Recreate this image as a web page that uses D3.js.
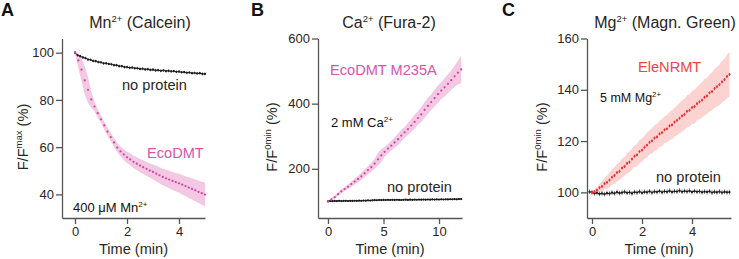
<!DOCTYPE html>
<html>
<head>
<meta charset="utf-8">
<script src="https://cdn.jsdelivr.net/npm/d3@7"></script>
<style>
  body { margin: 0; background: #fff; }
  svg text { font-family: "Liberation Sans", Arial, sans-serif; }
</style>
</head>
<body>
<svg id="fig" width="739" height="259"></svg>
<script>
// ---- data ----
// Panel A: Mn2+ (Calcein), EcoDMT, sampled every 0.125 min
var stepEcoA = 0.125;
var ecoDmtA = [100, 96.7, 92.8, 88.3, 84.3, 80.2, 77.2, 74.4, 71.8, 69.2,
    66.6, 64.3, 62.0, 59.8, 58.2, 56.9, 55.7, 54.8, 53.8, 53.0,
    52.2, 51.5, 50.8, 50.1, 49.5, 48.8, 48.1, 47.4, 46.8, 46.3,
    45.7, 45.2, 44.7, 44.1, 43.5, 42.9, 42.3, 41.7, 41.1, 40.5,
    39.9];
var ecoDmtSdA = [0.5, 3.0, 5.0, 6.0, 5.5, 3.5, 2.0, 1.8, 1.6, 1.6,
    1.7, 1.8, 1.9, 2.0, 2.1, 2.3, 2.4, 2.5, 2.6, 2.7,
    2.8, 2.9, 3.0, 3.0, 3.2, 3.3, 3.4, 3.5, 3.6, 3.7,
    3.8, 3.9, 4.0, 4.1, 4.2, 4.4, 4.5, 4.6, 4.8, 4.9,
    5.1];
var stepNoProtA = 0.1;
var noProteinA = [100.0, 98.9, 98.5, 98.0, 97.7, 97.1, 97.0, 96.5, 96.4, 96.0,
    95.9, 95.5, 95.5, 95.2, 95.1, 94.7, 94.7, 94.3, 94.3, 93.9,
    93.9, 93.6, 93.7, 93.4, 93.4, 93.1, 93.2, 92.9, 93.0, 92.7,
    92.8, 92.5, 92.6, 92.3, 92.5, 92.2, 92.3, 92.1, 92.2, 91.9,
    92.0, 91.7, 91.8, 91.5, 91.6, 91.3, 91.4, 91.2, 91.3, 91.0,
    91.0];

// Panel B: Ca2+ (Fura-2), EcoDMT M235A, sampled every 0.3 min
var stepEcoB = 0.3;
var ecoM235AB = [100, 106, 113, 122, 131, 138, 145, 153, 161, 169,
    177, 186, 196, 205, 216, 229, 241, 252, 262, 271,
    281, 291, 302, 312, 322, 333, 344, 356, 367, 381,
    393, 405, 417, 429, 440, 450, 461, 472, 484, 495,
    505];
var ecoM235ASdB = [2, 3, 4, 5, 6, 6, 7, 8, 9, 10,
    11, 12, 12, 13, 16, 19, 20, 15, 14, 15,
    16, 17, 18, 17, 19, 20, 22, 21, 23, 24,
    25, 24, 26, 27, 26, 28, 29, 30, 32, 36,
    42];
var stepNoProtB = 0.2;
var noProteinB = [100.0, 101.2, 100.8, 101.5, 101.0, 101.6, 101.1, 101.4, 101.8, 101.2,
    101.7, 101.3, 102.0, 101.6, 102.2, 101.8, 102.5, 102.1, 103.0, 102.6,
    103.4, 103.9, 103.5, 104.3, 104.0, 104.6, 104.2, 104.8, 104.3, 104.9,
    104.4, 105.0, 104.5, 104.2, 104.9, 105.1, 104.6, 105.3, 104.8, 105.4,
    105.0, 105.6, 105.1, 105.7, 105.2, 105.8, 105.4, 106.0, 105.5, 106.1,
    105.7, 106.3, 105.8, 106.4, 106.0, 106.6, 106.2, 106.8, 106.4, 107.0,
    107.2];

// Panel C: Mg2+ (Magn. Green), EleNRMT, sampled every 0.1 min
var stepEleC = 0.1;
var eleNRMTC = [100.0, 100.3, 100.9, 101.8, 102.3, 103.4, 103.9, 104.8, 105.9, 106.6,
    107.7, 108.2, 109.5, 110.1, 111.3, 111.8, 113.0, 114.1, 114.6, 115.9,
    116.5, 117.6, 118.4, 119.5, 120.1, 121.2, 121.6, 122.8, 123.3, 124.4,
    124.8, 125.9, 126.3, 127.4, 128.1, 128.9, 129.8, 130.4, 131.6, 132.0,
    133.1, 133.5, 134.6, 135.3, 136.0, 137.1, 137.6, 138.8, 139.3, 140.5,
    141.2, 142.0, 143.1, 144.0, 145.2, 146.0];
var eleNRMTSdC = [0.5, 0.8, 1.2, 1.6, 1.9, 2.2, 2.5, 2.8, 3.0, 3.2,
    3.4, 3.5, 3.7, 3.6, 3.9, 4.0, 4.2, 4.1, 4.4, 4.5,
    4.6, 4.5, 4.8, 4.7, 4.9, 5.0, 5.1, 5.0, 5.3, 5.2,
    5.4, 5.5, 5.7, 5.6, 5.8, 5.9, 6.1, 6.0, 6.3, 6.2,
    6.4, 6.6, 6.5, 6.8, 6.9, 7.1, 7.0, 7.3, 7.4, 7.6,
    7.7, 7.9, 8.1, 8.3, 8.5, 8.7];
var stepNoProtC = 0.1;
var startNoProtC = -0.1;
var noProteinC = [100.2, 100.0, 99.6, 99.8, 99.4, 99.6, 99.3, 99.7, 99.5, 99.9, 99.6,
    100.1, 99.7, 99.9, 100.2, 99.8, 100.0, 99.6, 100.1, 99.9, 100.3,
    99.8, 100.2, 100.0, 100.4, 99.9, 100.3, 100.1, 100.5, 100.0, 100.4,
    100.2, 100.6, 100.1, 100.4, 100.3, 100.7, 100.2, 100.5, 100.3, 100.6,
    100.1, 100.5, 100.2, 100.4, 100.0, 100.3, 100.1, 100.4, 99.9, 100.2,
    100.0, 100.3, 99.9, 100.2, 100.0, 100.1];

// tick values
var xTicksA = [0, 2, 4], yTicksA = [40, 60, 80, 100];
var xTicksB = [0, 5, 10], yTicksB = [200, 400, 600];
var xTicksC = [0, 2, 4], yTicksC = [100, 120, 140, 160];

function toPoints(vals, step, start, sd) {
    return vals.map(function (v, i) {
        return { t: (start || 0) + i * step, v: v, sd: sd ? sd[i] : 0 };
    });
}

var svg = d3.select('#fig');
var PINK = '#d6409f', PINK_BAND = '#f3c8e3';
var RED = '#ec2d32', RED_BAND = '#fdd3d1';
var FONT = '"Liberation Sans", Arial, sans-serif';
var INK = '#262626';

function drawPanel(cfg) {
    var g = svg.append('g');
    var x = d3.scaleLinear().domain(cfg.xDomain).range(cfg.xRange);
    var y = d3.scaleLinear().domain(cfg.yDomain).range([218, 38.5]);

    // band around the protein trace
    var pts = cfg.protein;
    g.append('path').datum(pts)
        .attr('fill', cfg.band)
        .attr('d', d3.area()
            .x(function (d) { return x(d.t); })
            .y0(function (d) { return y(d.v - d.sd); })
            .y1(function (d) { return y(d.v + d.sd); }));

    // no protein control: error bars + markers
    var ctrl = cfg.control;
    g.selectAll('.ebar').data(ctrl).enter().append('line')
        .attr('x1', function (d) { return x(d.t); })
        .attr('x2', function (d) { return x(d.t); })
        .attr('y1', function (d) { return y(d.v - cfg.ctrlErr); })
        .attr('y2', function (d) { return y(d.v + cfg.ctrlErr); })
        .attr('stroke', '#7a7a7a').attr('stroke-width', 1);
    g.append('path').datum(ctrl)
        .attr('fill', 'none').attr('stroke', '#2a2a2a').attr('stroke-width', 1)
        .attr('d', d3.line().x(function (d) { return x(d.t); }).y(function (d) { return y(d.v); }));
    g.selectAll('.cdot').data(ctrl).enter().append('circle')
        .attr('cx', function (d) { return x(d.t); })
        .attr('cy', function (d) { return y(d.v); })
        .attr('r', 1.1).attr('fill', '#1a1a1a');

    // protein dots
    if (cfg.proteinBars) {
        g.selectAll('.pbar').data(pts).enter().append('line')
            .attr('x1', function (d) { return x(d.t); })
            .attr('x2', function (d) { return x(d.t); })
            .attr('y1', function (d) { return y(d.v) - 1.5; })
            .attr('y2', function (d) { return y(d.v) + 1.5; })
            .attr('stroke', cfg.dot).attr('stroke-width', 0.8);
    }
    g.selectAll('.pdot').data(pts).enter().append('circle')
        .attr('cx', function (d) { return x(d.t); })
        .attr('cy', function (d) { return y(d.v); })
        .attr('r', 1.1).attr('fill', cfg.dot);

    // axes
    var xa = g.append('g').attr('transform', 'translate(0,218)')
        .call(d3.axisBottom(x).tickValues(cfg.xTicks).tickFormat(d3.format('d'))
            .tickSize(6).tickSizeOuter(0).tickPadding(3));
    var ya = g.append('g').attr('transform', 'translate(' + cfg.xRange[0] + ',0)')
        .call(d3.axisLeft(y).tickValues(cfg.yTicks).tickFormat(d3.format('d'))
            .tickSize(6).tickSizeOuter(0).tickPadding(2));
    [xa, ya].forEach(function (a) {
        a.select('.domain').attr('stroke', '#555').attr('stroke-width', 1.3);
        a.selectAll('.tick line').attr('stroke', '#555').attr('stroke-width', 1.3);
        a.selectAll('.tick text').attr('fill', INK)
            .style('font-size', '13px').style('font-family', FONT);
    });

    // panel letter
    g.append('text').attr('x', cfg.letterX).attr('y', 16)
        .style('font-size', '18px').style('font-weight', 'bold').attr('fill', '#111')
        .text(cfg.letter);

    // title with superscript
    var title = g.append('text').attr('x', cfg.titleX).attr('y', 28)
        .attr('text-anchor', 'middle').style('font-size', '16px').attr('fill', INK);
    title.append('tspan').text(cfg.ion);
    title.append('tspan').attr('dy', -6).style('font-size', '9.5px').text('2+');
    title.append('tspan').attr('dy', 6).text(' (' + cfg.dye + ')');

    // y label
    var cx = (cfg.xRange[0] + cfg.xRange[1]) / 2;
    var yl = g.append('text')
        .attr('transform', 'translate(' + cfg.yLabelX + ',137) rotate(-90)')
        .attr('text-anchor', 'middle').style('font-size', '14.6px').attr('fill', INK);
    yl.append('tspan').text('F/F');
    yl.append('tspan').attr('dy', -6).style('font-size', '9.5px').text(cfg.ySup);
    yl.append('tspan').attr('dy', 6).text(' (%)');

    // x label
    g.append('text').attr('x', cx).attr('y', 254).attr('text-anchor', 'middle')
        .style('font-size', '14.6px').attr('fill', INK).text('Time (min)');

    // annotations
    cfg.notes.forEach(function (n) {
        var t = g.append('text').attr('x', n.x).attr('y', n.y)
            .style('font-size', n.size + 'px').attr('fill', n.color);
        t.append('tspan').text(n.text);
        if (n.sup) {
            t.append('tspan').attr('dy', -5).style('font-size', (n.size * 0.62) + 'px').text(n.sup);
        }
    });
}

drawPanel({
    letter: 'A', letterX: 1, ion: 'Mn', dye: 'Calcein', titleX: 140,
    ySup: 'max', yLabelX: 28,
    xDomain: [-0.5, 5], xRange: [62, 205], yDomain: [30, 106],
    xTicks: xTicksA, yTicks: yTicksA,
    protein: toPoints(ecoDmtA, stepEcoA, 0, ecoDmtSdA),
    control: toPoints(noProteinA, stepNoProtA, 0), ctrlErr: 0.6,
    band: PINK_BAND, dot: PINK,
    notes: [
        { x: 122, y: 90, size: 14.6, color: INK, text: 'no protein' },
        { x: 147, y: 158, size: 14.6, color: '#d655ab', text: 'EcoDMT' },
        { x: 73, y: 212, size: 13, color: '#111', text: '400 \u03bcM Mn', sup: '2+' }
    ]
});

drawPanel({
    letter: 'B', letterX: 251, ion: 'Ca', dye: 'Fura-2', titleX: 389,
    ySup: '0min', yLabelX: 277,
    xDomain: [-0.9, 12.07], xRange: [318, 462], yDomain: [49, 600],
    xTicks: xTicksB, yTicks: yTicksB,
    protein: toPoints(ecoM235AB, stepEcoB, 0, ecoM235ASdB),
    control: toPoints(noProteinB, stepNoProtB, 0), ctrlErr: 1.8,
    band: PINK_BAND, dot: PINK,
    notes: [
        { x: 330, y: 75, size: 14.6, color: '#d655ab', text: 'EcoDMT M235A' },
        { x: 331, y: 127, size: 13, color: '#111', text: '2 mM Ca', sup: '2+' },
        { x: 387, y: 192, size: 14.6, color: INK, text: 'no protein' }
    ]
});

drawPanel({
    letter: 'C', letterX: 502, ion: 'Mg', dye: 'Magn. Green', titleX: 665,
    ySup: '0min', yLabelX: 547,
    xDomain: [-0.2, 5.56], xRange: [587, 731], yDomain: [90, 160],
    xTicks: xTicksC, yTicks: yTicksC,
    protein: toPoints(eleNRMTC, stepEleC, 0, eleNRMTSdC), proteinBars: true,
    control: toPoints(noProteinC, stepNoProtC, startNoProtC), ctrlErr: 0.9,
    band: RED_BAND, dot: RED,
    notes: [
        { x: 638, y: 72, size: 14.6, color: '#ef4545', text: 'EleNRMT' },
        { x: 600, y: 102, size: 12.5, color: '#111', text: '5 mM Mg', sup: '2+' },
        { x: 656, y: 182, size: 14.6, color: INK, text: 'no protein' }
    ]
});
</script>
</body>
</html>
